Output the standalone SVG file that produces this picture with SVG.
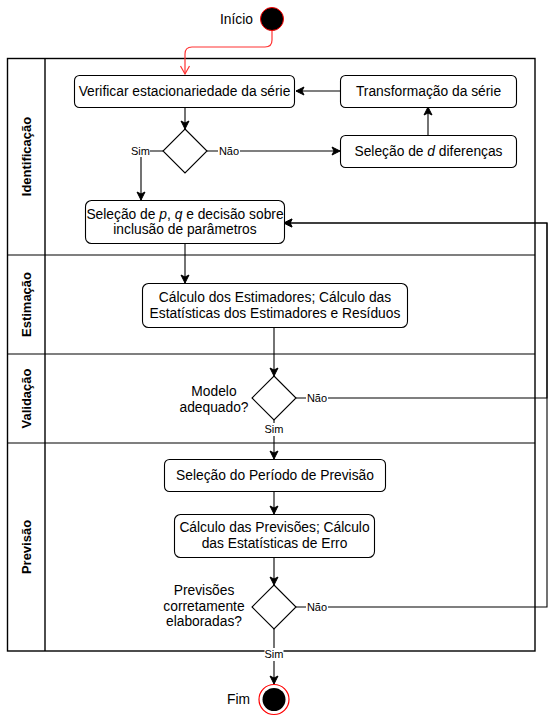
<svg xmlns="http://www.w3.org/2000/svg" width="555" height="723" viewBox="0 0 555 723">
<defs>
<marker id="ah" markerUnits="userSpaceOnUse" markerWidth="10" markerHeight="10" viewBox="0 0 10 10" refX="9" refY="5" orient="auto">
<path d="M1,1 L9,5 L1,9 L3,5 z" fill="#000" stroke="#000" stroke-width="1"/>
</marker>
<marker id="ahr" markerUnits="userSpaceOnUse" markerWidth="10" markerHeight="12" viewBox="0 0 10 12" refX="9" refY="6" orient="auto">
<path d="M1,1.5 L9,6 L1,10.5" fill="none" stroke="#ff3333" stroke-width="1.2"/>
</marker>
</defs>
<style>
text{font-family:"Liberation Sans",Arial,sans-serif;fill:#000}
.t{font-size:13.8px;text-anchor:middle}
.lane{font-size:13px;font-weight:bold;text-anchor:middle}
.lbl{font-size:11px;text-anchor:middle}
.box{fill:#fff;stroke:#000;stroke-width:1.1}
.dia{fill:#fff;stroke:#000;stroke-width:1.1}
.pool{fill:none;stroke:#000;stroke-width:1.4}
.ln{fill:none;stroke:#000;stroke-width:1.1}
.e{fill:none;stroke:#000;stroke-width:1.1}
.bg{fill:#fff}
</style>

<g id="pool">
<rect class="pool" x="7.5" y="58.5" width="527.5" height="592.5"/>
<line class="pool" x1="45" y1="58.5" x2="45" y2="651"/>
<line class="ln" x1="7.5" y1="255" x2="535" y2="255"/>
<line class="ln" x1="7.5" y1="354" x2="535" y2="354"/>
<line class="ln" x1="7.5" y1="443" x2="535" y2="443"/>
<text class="lane" transform="translate(31,156.5) rotate(-90)">Identificação</text>
<text class="lane" transform="translate(31,304.5) rotate(-90)">Estimação</text>
<text class="lane" transform="translate(31,398.5) rotate(-90)">Validação</text>
<text class="lane" transform="translate(31,547) rotate(-90)">Previsão</text>
</g>

<g id="connectors">
<path d="M272,30 V40 Q272,47 265,47 H192 Q185,47 185,54 V74" fill="none" stroke="#ff3333" stroke-width="1.2" marker-end="url(#ahr)"/>
<path class="e" d="M340,91 H296" marker-end="url(#ah)"/>
<path class="e" d="M428,135 V107" marker-end="url(#ah)"/>
<path class="e" d="M185,107 V129" marker-end="url(#ah)"/>
<path class="e" d="M207,151 H340" marker-end="url(#ah)"/>
<path class="e" d="M163,151 H141 V200" marker-end="url(#ah)"/>
<path class="e" d="M185,243 V283" marker-end="url(#ah)"/>
<path class="e" d="M274,327 V376" marker-end="url(#ah)"/>
<path class="e" d="M296,398 H547 V223 H284" marker-end="url(#ah)"/>
<path class="e" d="M274,420 V459" marker-end="url(#ah)"/>
<path class="e" d="M274,491 V514" marker-end="url(#ah)"/>
<path class="e" d="M274,557 V585" marker-end="url(#ah)"/>
<path class="e" d="M296,607 H547 V223 H284" marker-end="url(#ah)"/>
<path class="e" d="M274,629 V684" marker-end="url(#ah)"/>
<rect class="bg" x="131" y="144" width="19" height="13"/>
<text class="lbl" x="140.5" y="154.5">Sim</text>
<rect class="bg" x="218" y="144" width="22" height="13"/>
<text class="lbl" x="229" y="154.5">Não</text>
<rect class="bg" x="306" y="391" width="22" height="13"/>
<text class="lbl" x="317" y="401.5">Não</text>
<rect class="bg" x="264.5" y="423" width="19" height="13"/>
<text class="lbl" x="274" y="433">Sim</text>
<rect class="bg" x="306" y="600" width="22" height="13"/>
<text class="lbl" x="317" y="610.5">Não</text>
<rect class="bg" x="264.5" y="648" width="19" height="13"/>
<text class="lbl" x="274" y="658">Sim</text>
</g>

<g id="inicio">
<circle cx="272" cy="19" r="11.5" fill="#000" stroke="#ff0000" stroke-width="1"/>
<text x="253" y="23.5" style="font-size:13.8px;text-anchor:end">Início</text>
</g>

<g id="verificar">
<rect class="box" x="74.5" y="75.5" width="220" height="32" rx="5"/>
<text class="t" x="184.5" y="96">Verificar estacionariedade da série</text>
</g>

<g id="transformacao">
<rect class="box" x="340.5" y="75.5" width="176" height="32" rx="5"/>
<text class="t" x="428.5" y="96">Transformação da série</text>
</g>

<g id="selecao-d">
<rect class="box" x="340.5" y="135.5" width="176" height="32" rx="5"/>
<text class="t" x="428.5" y="156">Seleção de <tspan font-style="italic">d</tspan> diferenças</text>
</g>

<g id="decisao-estacionaria">
<path class="dia" d="M185,129 L207,151 L185,173 L163,151 Z"/>
</g>

<g id="selecao-pq">
<rect class="box" x="85.5" y="200.5" width="199" height="43" rx="6"/>
<text class="t" x="185" y="218.5">Seleção de <tspan font-style="italic">p</tspan>, <tspan font-style="italic">q</tspan> e decisão sobre</text>
<text class="t" x="185" y="234">inclusão de parâmetros</text>
</g>

<g id="calculo-estimadores">
<rect class="box" x="142.5" y="283.5" width="265" height="44" rx="6"/>
<text class="t" x="275" y="301.5">Cálculo dos Estimadores; Cálculo das</text>
<text class="t" x="275" y="317.5">Estatísticas dos Estimadores e Resíduos</text>
</g>

<g id="modelo-adequado">
<path class="dia" d="M274,376 L296,398 L274,420 L252,398 Z"/>
<text class="t" x="214" y="396">Modelo</text>
<text class="t" x="214" y="411.5">adequado?</text>
</g>

<g id="selecao-periodo">
<rect class="box" x="164.5" y="459.5" width="221" height="32" rx="5"/>
<text class="t" x="275" y="480">Seleção do Período de Previsão</text>
</g>

<g id="calculo-previsoes">
<rect class="box" x="174.5" y="514.5" width="200" height="43" rx="6"/>
<text class="t" x="274.5" y="532">Cálculo das Previsões; Cálculo</text>
<text class="t" x="274.5" y="547.5">das Estatísticas de Erro</text>
</g>

<g id="previsoes-corretas">
<path class="dia" d="M274,585 L296,607 L274,629 L252,607 Z"/>
<text class="t" x="204" y="594.5">Previsões</text>
<text class="t" x="204" y="610.5">corretamente</text>
<text class="t" x="204" y="626">elaboradas?</text>
</g>

<g id="fim">
<circle cx="274" cy="699.5" r="15" fill="#fff" stroke="#ff0000" stroke-width="1.2"/>
<circle cx="274" cy="699.5" r="11.5" fill="#000"/>
<text x="250" y="704" style="font-size:13.8px;text-anchor:end">Fim</text>
</g>
</svg>
